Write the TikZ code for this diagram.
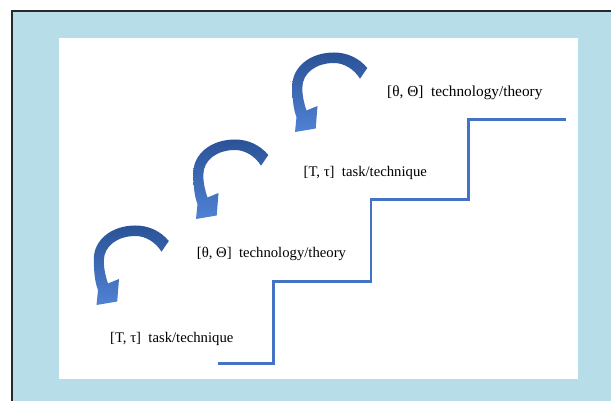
\documentclass[tikz,border=0pt]{standalone}
\usepackage{fontspec}
\setmainfont{Liberation Serif}
\definecolor{framefill}{RGB}{183,222,232}
\definecolor{frameline}{RGB}{40,40,40}
\definecolor{stairblue}{RGB}{68,114,196}
\definecolor{arrowtop}{RGB}{42,82,150}
\definecolor{arrowbottom}{RGB}{80,130,212}
\tikzset{
  lbl/.style={inner sep=0pt, anchor=base west, font=\fontsize{14.7}{17}\selectfont},
  stairline/.style={draw=stairblue, line width=2.7pt, line join=miter},
  bentarrow/.style={top color=arrowtop, bottom color=arrowbottom, draw=none},
}
% hook-shaped block arrow, coordinates relative to the arc centre (y down)
\newcommand{\bentarrowpath}{%
  (33.3,-27) .. controls (25,-37) and (13,-42.5) .. (0,-42.5)
  .. controls (-24,-42.5) and (-41.7,-28) .. (-41.7,-9)
  .. controls (-41.7,6) and (-40,16) .. (-37.5,22)
  -- (-39,37) -- (-18.3,33.5) -- (-16.5,11) -- (-27.5,15.5)
  .. controls (-30,8) and (-31.7,1) .. (-31.7,-7)
  .. controls (-31.7,-22) and (-18,-32) .. (0,-32)
  .. controls (10,-32) and (20,-26) .. (26,-16.3) -- cycle}
\begin{document}
\begin{tikzpicture}[x=1pt,y=-1pt]
  \useasboundingbox (0,0) rectangle (611,401);
  \fill[white] (0,0) rectangle (611,401);
  % outer light-blue frame with dark rule on the top and left
  \fill[framefill] (11.5,11.5) rectangle (611,401);
  \draw[frameline, line width=2pt] (11.5,401) -- (11.5,11.5) -- (611,11.5);
  % white panel
  \fill[white] (59,38) rectangle (578,378.5);

  % staircase
  \draw[stairline] (218,363.3) -- (273.5,363.3) -- (273.5,281.7) -- (371,281.7)
    -- (371,199.3) -- (468.3,199.3) -- (468.3,119.3) -- (566,119.3);

  % curved arrows
  \begin{scope}[shift={(334,95)}]
    \shade[bentarrow] \bentarrowpath;
  \end{scope}
  \begin{scope}[shift={(235,182)}]
    \shade[bentarrow] \bentarrowpath;
  \end{scope}
  \begin{scope}[shift={(135.5,268)}]
    \shade[bentarrow] \bentarrowpath;
  \end{scope}

  % labels
  \node[lbl, font=\fontsize{15.3}{18}\selectfont] (theoryTop) at (387,96.6) {[θ, Θ]~~technology/theory};
  \node[lbl] (taskMid) at (303.5,176.3) {[T, τ]~~task/technique};
  \node[lbl] (theoryMid) at (196.7,257.3) {[θ, Θ]~~technology/theory};
  \node[lbl] (taskLow) at (110,342.3) {[T, τ]~~task/technique};
\end{tikzpicture}
\end{document}
